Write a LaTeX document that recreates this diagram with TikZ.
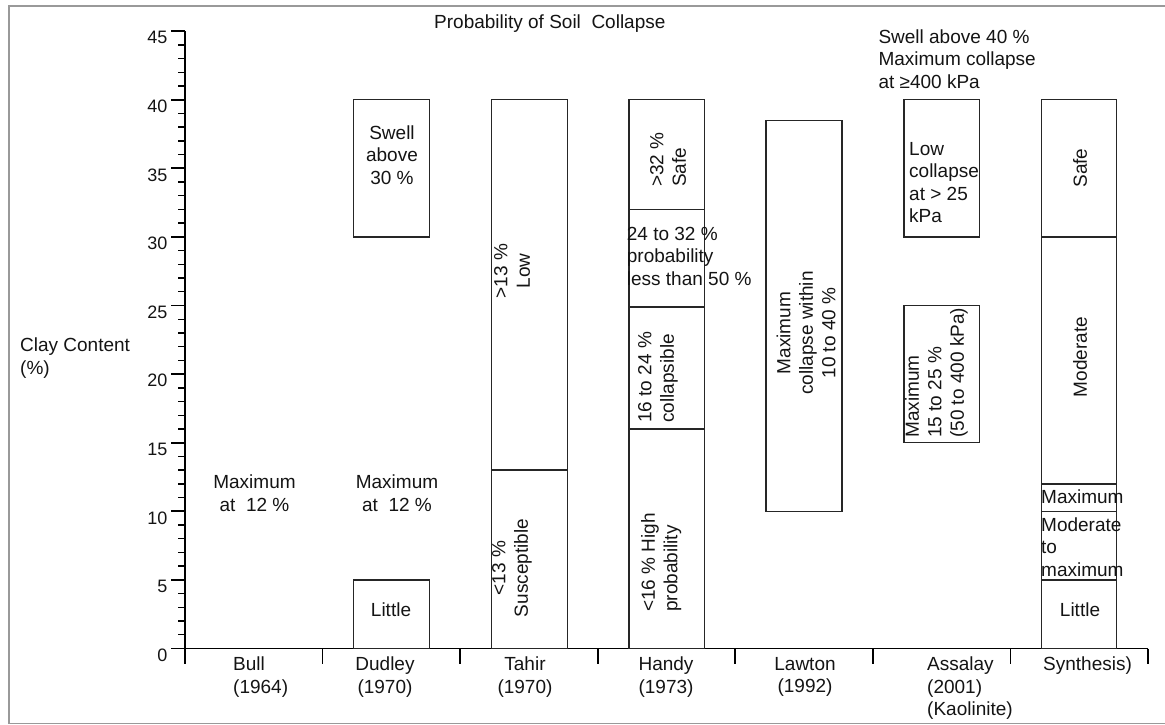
\documentclass[tikz,border=0pt]{standalone}
\usepackage{fontspec}
\setmainfont{Liberation Sans}
% vertical position (in pt, downward) of a clay-content value
\newcommand\yval[1]{648.5-13.72*(#1)}
\begin{document}
\begin{tikzpicture}[x=1pt,y=-1pt,
  txt/.style={inner sep=0pt, font=\fontsize{19}{22.5}\selectfont, text=black!92},
  ticklabel/.style={inner sep=0pt, font=\fontsize{18}{20}\selectfont, text=black!92, anchor=north east},
  boxline/.style={draw=black!85, line width=1.4pt},
  axisline/.style={draw=black, line width=1.8pt},
  frameline/.style={draw=black!40, line width=1.5pt}]
\useasboundingbox (0,0) rectangle (1165,724);

% outer frame (open on the right)
\draw[frameline] (1165,6) -- (9,6) -- (9,723.3) -- (1165,723.3);

% title
\node[txt, anchor=north west] (title) at (434,15) {Probability of Soil\ \ Collapse};

% y axis
\draw[axisline] (185,{\yval{45}}) -- (185,{\yval{0}});
\foreach \v in {0,...,45}
  \draw[axisline, line width=1.4pt] (178,{\yval{\v}}) -- (185,{\yval{\v}});
\foreach \v in {0,5,...,45} {
  \draw[axisline] (171,{\yval{\v}}) -- (185,{\yval{\v}});
  \node[ticklabel] (yl\v) at (167.5,{\yval{\v}}) {\v};
}
\node[txt, anchor=north west, align=left] (ytitle) at (20,338) {Clay Content\\(\%)};

% x axis with category separators
\draw[axisline] (185,{\yval{0}}) -- (1148,{\yval{0}});
\foreach \i in {0,...,7}
  \draw[axisline] ({185+137.57*\i},{\yval{0}}) -- ({185+137.57*\i},664);

% category names
\node[txt, anchor=north west, align=left] (cBull) at (233,657) {Bull\\(1964)};
\node[txt, anchor=north, align=center] (cDudley) at (385,657) {Dudley\\(1970)};
\node[txt, anchor=north, align=center] (cTahir) at (525,657) {Tahir\\(1970)};
\node[txt, anchor=north, align=center] (cHandy) at (666,657) {Handy\\(1973)};
\node[txt, anchor=north, align=center] (cLawton) at (805,657) {Lawton\\(1992)};
\node[txt, anchor=north west, align=left] (cAssalay) at (927,657) {Assalay\\(2001)\\(Kaolinite)};
\node[txt, anchor=north west] (cSynth) at (1043,657) {Synthesis)};

% Bull (1964)
\node[txt, anchor=north, align=center] (bullmax) at (254.5,475) {Maximum\\at\ \ 12 \%};

% Dudley (1970)
\draw[boxline] (353.3,{\yval{30}}) rectangle (429.3,{\yval{40}});
\draw[boxline] (353.3,{\yval{0}}) rectangle (429.3,{\yval{5}});
\node[txt, anchor=north, align=center] (dswell) at (392,125.5) {Swell\\above\\30 \%};
\node[txt, anchor=north, align=center] (dmax) at (397,475) {Maximum\\at\ \ 12 \%};
\node[txt] (dlittle) at (391,610) {Little};

% Tahir (1970)
\draw[boxline] (491.5,{\yval{0}}) rectangle (567.5,{\yval{40}});
\draw[boxline] (491.5,{\yval{13}}) -- (567.5,{\yval{13}});
\node[txt, rotate=90, align=center] (tlow) at (512,271) {>13 \%\\Low};
\node[txt, rotate=90, align=center] (tsus) at (512,568) {<13 \%\\Susceptible};

% Handy (1973)
\draw[boxline] (629,{\yval{0}}) rectangle (704.3,{\yval{40}});
\foreach \v in {16,24.9,32}
  \draw[boxline] (629,{\yval{\v}}) -- (704.3,{\yval{\v}});
\node[txt, rotate=90, anchor=north west, align=left] (hsafe) at (650,187) {>32 \%\\Safe};
\node[txt, anchor=north west, align=left] (hprob) at (626.7,226.7) {24 to 32 \%\\probability\\less than 50 \%};
\node[txt, rotate=90, anchor=north west, align=left] (hcol) at (638,423) {16 to 24 \%\\collapsible};
\node[txt, rotate=90, anchor=north west, align=left] (hhigh) at (641,612) {<16 \% High\\probability};

% Lawton (1992)
\draw[boxline] (766,{\yval{10}}) rectangle (842,{\yval{38.5}});
\node[txt, rotate=90, align=center] (lmax) at (806,333) {Maximum\\collapse within\\10 to 40 \%};

% Assalay (2001)
\node[txt, anchor=north west, align=left] (aswell) at (878.3,29.3) {Swell above 40 \%\\Maximum collapse\\at ≥400 kPa};
\draw[boxline] (904,{\yval{30}}) rectangle (979.5,{\yval{40}});
\draw[boxline] (904,{\yval{15}}) rectangle (979.5,{\yval{25}});
\node[txt, anchor=north west, align=left] (alow) at (909,142) {Low\\collapse\\at > 25\\kPa};
\node[txt, rotate=90, anchor=north west, align=left] (amax) at (905,438) {Maximum\\15 to 25 \%\\(50 to 400 kPa)};

% Synthesis
\draw[boxline] (1041.7,{\yval{0}}) rectangle (1116.7,{\yval{40}});
\foreach \v in {5,10,12,30}
  \draw[boxline] (1041.7,{\yval{\v}}) -- (1116.7,{\yval{\v}});
\node[txt, rotate=90] (ssafe) at (1080,168) {Safe};
\node[txt, rotate=90] (smod) at (1080,357) {Moderate};
\node[txt, anchor=north west] (smax) at (1041,490) {Maximum};
\node[txt, anchor=north west, align=left] (smtm) at (1041,517.3) {Moderate\\to\\maximum};
\node[txt] (slittle) at (1080,610) {Little};
\end{tikzpicture}
\end{document}
